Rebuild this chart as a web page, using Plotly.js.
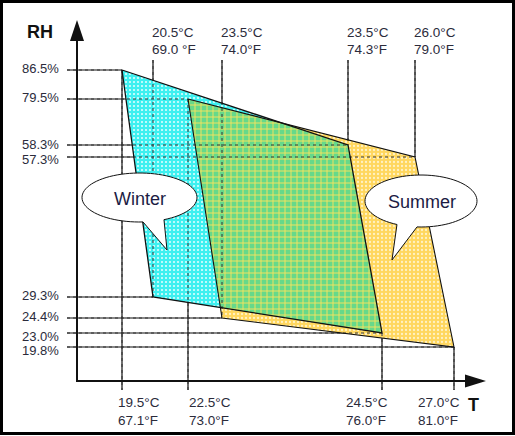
<!DOCTYPE html>
<html>
<head>
<meta charset="utf-8">
<script src="https://cdn.plot.ly/plotly-3.0.1.min.js"></script>
<style>html,body{margin:0;padding:0;background:#fff;}#chart{width:515px;height:436px;}</style>
</head>
<body>
<div id="chart"></div>
<script>
// ---- data ----
const tempCLabels = ['19.5°C', '20.5°C', '22.5°C', '23.5°C', '23.5°C', '24.5°C', '26.0°C', '27.0°C'];
const tempFLabels = ['67.1°F', '69.0 °F', '73.0°F', '74.0°F', '74.3°F', '76.0°F', '79.0°F', '81.0°F'];
const rhLabels = ['86.5%', '79.5%', '58.3%', '57.3%', '29.3%', '24.4%', '23.0%', '19.8%'];
// schematic (not-to-scale) axis positions of each temperature / RH level
const tempAxisPos = [122, 153, 188, 222, 348, 382, 415, 454];
const rhAxisPos = [70, 99, 145, 157, 297, 318, 333, 347];
// polygon corners as [temperature index, RH index]
const winterCorners = [[0, 0], [4, 2], [5, 6], [1, 4]];
const summerCorners = [[2, 1], [6, 3], [7, 7], [3, 5]];
const topLabelled = [1, 3, 4, 6];      // temperatures labelled above
const bubbleWinter = 'Winter';
const bubbleSummer = 'Summer';

// ---- helpers ----
const toPt = c => [tempAxisPos[c[0]], rhAxisPos[c[1]]];
const winter = winterCorners.map(toPt);
const summer = summerCorners.map(toPt);

function area(p) { let s = 0; for (let i = 0; i < p.length; i++) { const a = p[i], b = p[(i + 1) % p.length]; s += a[0] * b[1] - b[0] * a[1]; } return s; }
function clip(subject, clipPoly) {
  const sgn = Math.sign(area(clipPoly));
  let out = subject.slice();
  for (let i = 0; i < clipPoly.length; i++) {
    const A = clipPoly[i], B = clipPoly[(i + 1) % clipPoly.length];
    const inside = P => sgn * ((B[0] - A[0]) * (P[1] - A[1]) - (B[1] - A[1]) * (P[0] - A[0])) >= 0;
    const inter = (P, Q) => {
      const x1 = P[0], y1 = P[1], x2 = Q[0], y2 = Q[1], x3 = A[0], y3 = A[1], x4 = B[0], y4 = B[1];
      const d = (x1 - x2) * (y3 - y4) - (y1 - y2) * (x3 - x4);
      const t = ((x1 - x3) * (y3 - y4) - (y1 - y3) * (x3 - x4)) / d;
      return [x1 + t * (x2 - x1), y1 + t * (y2 - y1)];
    };
    const inp = out; out = [];
    for (let j = 0; j < inp.length; j++) {
      const P = inp[j], Q = inp[(j + 1) % inp.length];
      const pi = inside(P), qi = inside(Q);
      if (pi) { out.push(P); if (!qi) out.push(inter(P, Q)); }
      else if (qi) out.push(inter(P, Q));
    }
  }
  return out;
}
const overlap = clip(summer, winter);
const closeX = p => p.map(v => v[0]).concat([p[0][0]]);
const closeY = p => p.map(v => v[1]).concat([p[0][1]]);

// reference lines
const lx = [], ly = [];
const corners = winterCorners.concat(summerCorners);
corners.forEach(c => {
  const [x, y] = toPt(c);
  lx.push(67, x, null); ly.push(y, y, null);
  if (topLabelled.includes(c[0])) { lx.push(x, x, null); ly.push(60, y, null); }
  else { lx.push(x, x, null); ly.push(y, 390, null); }
});

const ink = '#111111';
const traces = [
  {x: lx, y: ly, mode: 'lines', line: {color: ink, width: 1.2}, hoverinfo: 'skip'},
  {x: closeX(winter), y: closeY(winter), mode: 'lines', fill: 'toself', line: {width: 0},
   fillcolor: '#48f2f2', fillpattern: {shape: '.', bgcolor: '#3ef0f0', fgcolor: '#e8ffff', size: 4, solidity: 0.2}, hoverinfo: 'skip'},
  {x: closeX(summer), y: closeY(summer), mode: 'lines', fill: 'toself', line: {width: 0},
   fillcolor: '#ffd966', fillpattern: {shape: '.', bgcolor: '#ffd75e', fgcolor: '#fff2c4', size: 4, solidity: 0.25}, hoverinfo: 'skip'},
  {x: closeX(overlap), y: closeY(overlap), mode: 'lines', fill: 'toself', line: {width: 0},
   fillcolor: '#7adc80', fillpattern: {shape: '+', bgcolor: '#66d98a', fgcolor: '#f2e25e', size: 6, solidity: 0.3}, hoverinfo: 'skip'},
  {x: lx, y: ly, mode: 'lines', line: {color: '#333333', width: 1, dash: 'dot'}, hoverinfo: 'skip'},
  {x: closeX(winter), y: closeY(winter), mode: 'lines', line: {color: ink, width: 1.3}, hoverinfo: 'skip'},
  {x: closeX(summer), y: closeY(summer), mode: 'lines', line: {color: ink, width: 1.1}, hoverinfo: 'skip'}
];

// speech bubbles
function bubblePath(cx, cy, rx, ry, a1, a2, tip) {
  let d = '';
  const n = 80;
  for (let i = 0; i <= n; i++) {
    const a = (a1 + (a2 - a1) * i / n) * Math.PI / 180;
    const x = cx + rx * Math.cos(a), y = cy + ry * Math.sin(a);
    d += (i === 0 ? 'M' : 'L') + x.toFixed(2) + ',' + y.toFixed(2);
  }
  return d + 'L' + tip[0] + ',' + tip[1] + 'Z';
}

const shapes = [
  // axes
  {type: 'line', x0: 77, y0: 381, x1: 77, y1: 38, line: {color: ink, width: 2}},
  {type: 'line', x0: 76, y0: 381, x1: 467, y1: 381, line: {color: ink, width: 2}},
  {type: 'path', path: 'M70,41 L84,41 L77,20 Z', fillcolor: ink, line: {width: 0}},
  {type: 'path', path: 'M465,374.5 L465,387.5 L486,381 Z', fillcolor: ink, line: {width: 0}},
  // bubbles
  {type: 'path', path: bubblePath(139.5, 197.5, 57.5, 24.5, 86.5, 424.8, [167, 250]), fillcolor: '#ffffff', line: {color: ink, width: 1}},
  {type: 'path', path: bubblePath(421, 201, 56, 26, 115.4, 454.1, [392, 260]), fillcolor: '#ffffff', line: {color: ink, width: 1}},
  // frame
  {type: 'rect', x0: 1.5, y0: 1.5, x1: 513.5, y1: 433.5, line: {color: '#000', width: 3}}
];

const txt = '#2b2b3b';
const annotations = [];
const addText = (x, y, text, anchor, size, extra) => annotations.push(Object.assign({x: x, y: y, text: text, xanchor: anchor, yanchor: 'middle', showarrow: false, font: {size: size, color: txt}}, extra || {}));
const rhOffset = [-2, -2, -1, 2, -1.5, -1.5, 3, 3];
rhLabels.forEach((t, i) => addText(61, rhAxisPos[i] + rhOffset[i], t, 'right', 13));
const bottomOffset = {0: -6, 2: -1, 5: -38, 7: -38};
tempCLabels.forEach((t, i) => {
  if (topLabelled.includes(i)) {
    addText(tempAxisPos[i] - 3, 32, t, 'left', 13.5);
    addText(tempAxisPos[i] - 3, 49, tempFLabels[i], 'left', 13.5);
  } else {
    addText(tempAxisPos[i] + bottomOffset[i], 402.5, t, 'left', 13.5);
    addText(tempAxisPos[i] + bottomOffset[i], 420.5, tempFLabels[i], 'left', 13.5);
  }
});
addText(40, 32, '<b>RH</b>', 'center', 18, {font: {size: 18, color: '#111'}});
addText(473, 405, '<b>T</b>', 'center', 18, {font: {size: 18, color: '#111'}});
addText(139.5, 199, bubbleWinter, 'center', 18, {font: {size: 18, color: '#1c1c44'}});
addText(422, 202, bubbleSummer, 'center', 18, {font: {size: 18, color: '#1c1c44'}});

const layout = {
  width: 515, height: 436, autosize: false,
  margin: {l: 0, r: 0, t: 0, b: 0, pad: 0},
  paper_bgcolor: '#ffffff', plot_bgcolor: '#ffffff',
  font: {family: 'Liberation Sans, Arial, sans-serif'},
  showlegend: false,
  xaxis: {range: [0, 515], visible: false, fixedrange: true},
  yaxis: {range: [436, 0], visible: false, fixedrange: true},
  shapes: shapes,
  annotations: annotations
};
Plotly.newPlot('chart', traces, layout, {displayModeBar: false, staticPlot: true});
</script>
</body>
</html>
